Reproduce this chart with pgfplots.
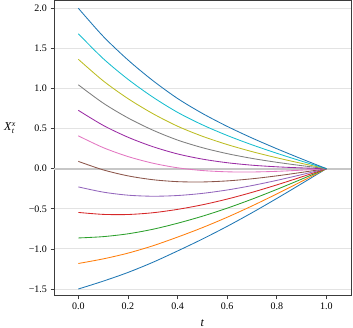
\documentclass[border=0pt]{standalone}
\usepackage{amsmath}
\usepackage{pgfplots}
\pgfplotsset{compat=1.18}
\usepackage{fontspec}
\setmainfont{Liberation Serif}
\definecolor{c1}{HTML}{1F77B4}
\definecolor{c2}{HTML}{FF7F0E}
\definecolor{c3}{HTML}{2CA02C}
\definecolor{c4}{HTML}{D62728}
\definecolor{c5}{HTML}{9467BD}
\definecolor{c6}{HTML}{8C564B}
\definecolor{c7}{HTML}{E377C2}
\definecolor{c8}{RGB}{155,45,165}
\definecolor{c9}{HTML}{7F7F7F}
\definecolor{c10}{HTML}{BCBD22}
\definecolor{c11}{HTML}{17BECF}
\definecolor{c12}{HTML}{1F77B4}
\definecolor{spine}{RGB}{60,60,60}
\begin{document}
\begin{tikzpicture}
\useasboundingbox (0,0) rectangle (353pt,328pt);
\begin{axis}[
  at={(54pt,32pt)}, anchor=south west,
  scale only axis, width=297pt, height=295pt,
  xmin=-0.098, xmax=1.099, ymin=-1.587, ymax=2.09,
  xtick={0,0.2,0.4,0.6,0.8,1.0},
  xticklabels={0.0,0.2,0.4,0.6,0.8,1.0},
  ytick={-1.5,-1,-0.5,0,0.5,1,1.5,2},
  yticklabels={−1.5,−1.0,−0.5,0.0,0.5,1.0,1.5,2.0},
  ticklabel style={font=\fontsize{10}{12}\selectfont, text=black},
  tick align=outside, tick pos=left,
  major tick length=3.5pt,
  every tick/.style={spine, line width=0.8pt},
  axis line style={spine, line width=1pt},
  ymajorgrids, grid style={draw=black!11, line width=0.9pt},
  xlabel={\textit{t}}, ylabel={\textit{X}$_{\textit{t}}^{\textit{x}}$},
  label style={font=\fontsize{12}{14}\selectfont},
  xlabel style={at={(axis description cs:0.5,-0.092)}, anchor=center},
  ylabel style={at={(axis description cs:-0.148,0.569)}, anchor=center, rotate=-90},
  every axis plot/.append style={line width=0.85pt, smooth, no markers},
  clip=true,
]
\addplot[draw=black!22, line width=1.8pt, sharp plot] coordinates {(-0.2,0) (1.2,0)};
\addplot[c1] coordinates {(0,-1.5) (0.1,-1.4022) (0.2,-1.2936) (0.3,-1.1676) (0.4,-1.0257) (0.5,-0.8775) (0.6,-0.7188) (0.7,-0.5493) (0.8,-0.3711) (0.9,-0.1868) (1,0)};
\addplot[c2] coordinates {(0,-1.18182) (0.1,-1.1247) (0.2,-1.0528) (0.3,-0.9616) (0.4,-0.8529) (0.5,-0.7351) (0.6,-0.6055) (0.7,-0.4646) (0.8,-0.3148) (0.9,-0.1587) (1,0)};
\addplot[c3] coordinates {(0,-0.86364) (0.1,-0.8472) (0.2,-0.8120) (0.3,-0.7556) (0.4,-0.6802) (0.5,-0.5927) (0.6,-0.4923) (0.7,-0.3800) (0.8,-0.2585) (0.9,-0.1306) (1,0)};
\addplot[c4] coordinates {(0,-0.54545) (0.1,-0.5697) (0.2,-0.5712) (0.3,-0.5495) (0.4,-0.5074) (0.5,-0.4503) (0.6,-0.3790) (0.7,-0.2953) (0.8,-0.2021) (0.9,-0.1026) (1,0)};
\addplot[c5] coordinates {(0,-0.22727) (0.1,-0.2922) (0.2,-0.3304) (0.3,-0.3435) (0.4,-0.3346) (0.5,-0.3080) (0.6,-0.2657) (0.7,-0.2106) (0.8,-0.1458) (0.9,-0.0745) (1,0)};
\addplot[c6] coordinates {(0,0.09091) (0.1,-0.0148) (0.2,-0.0896) (0.3,-0.1375) (0.4,-0.1618) (0.5,-0.1656) (0.6,-0.1524) (0.7,-0.1260) (0.8,-0.0895) (0.9,-0.0464) (1,0)};
\addplot[c7] coordinates {(0,0.40909) (0.1,0.2627) (0.2,0.1512) (0.3,0.0685) (0.4,0.0109) (0.5,-0.0232) (0.6,-0.0392) (0.7,-0.0413) (0.8,-0.0332) (0.9,-0.0184) (1,0)};
\addplot[c8] coordinates {(0,0.72727) (0.1,0.5402) (0.2,0.3920) (0.3,0.2746) (0.4,0.1837) (0.5,0.1192) (0.6,0.0741) (0.7,0.0434) (0.8,0.0231) (0.9,0.0097) (1,0)};
\addplot[c9] coordinates {(0,1.04545) (0.1,0.8177) (0.2,0.6328) (0.3,0.4806) (0.4,0.3565) (0.5,0.2616) (0.6,0.1874) (0.7,0.1280) (0.8,0.0794) (0.9,0.0378) (1,0)};
\addplot[c10] coordinates {(0,1.36364) (0.1,1.0952) (0.2,0.8736) (0.3,0.6866) (0.4,0.5293) (0.5,0.4040) (0.6,0.3007) (0.7,0.2127) (0.8,0.1358) (0.9,0.0658) (1,0)};
\addplot[c11] coordinates {(0,1.68182) (0.1,1.3727) (0.2,1.1144) (0.3,0.8926) (0.4,0.7020) (0.5,0.5464) (0.6,0.4139) (0.7,0.2974) (0.8,0.1921) (0.9,0.0939) (1,0)};
\addplot[c12] coordinates {(0,2.0) (0.1,1.6502) (0.2,1.3552) (0.3,1.0987) (0.4,0.8748) (0.5,0.6888) (0.6,0.5272) (0.7,0.3821) (0.8,0.2484) (0.9,0.1220) (1,0)};
\end{axis}
\end{tikzpicture}
\end{document}
